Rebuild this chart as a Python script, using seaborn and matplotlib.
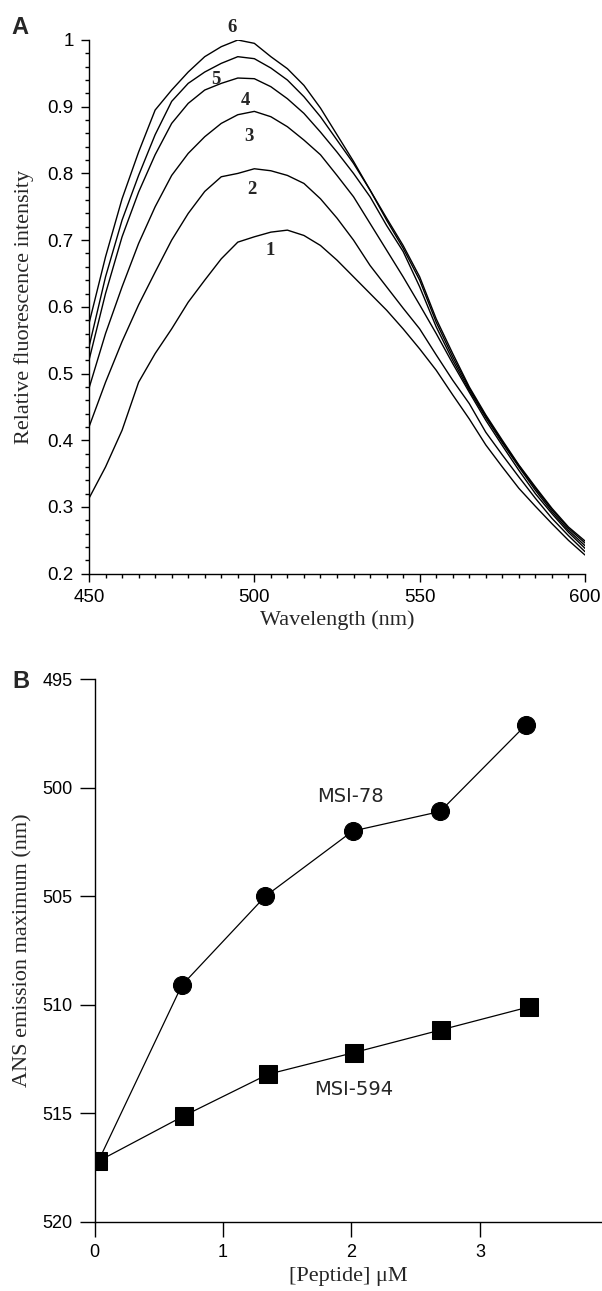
import matplotlib
matplotlib.use("Agg")
import matplotlib.pyplot as plt
import seaborn as sns
import pandas as pd
from matplotlib.ticker import MultipleLocator, FuncFormatter

# ---------------- Panel A data ----------------
wavelength = list(range(450, 601, 5))
curve1 = [0.313, 0.360, 0.415, 0.487, 0.530, 0.567, 0.607, 0.640, 0.672, 0.697, 0.705,
          0.712, 0.715, 0.707, 0.692, 0.670, 0.645, 0.620, 0.595, 0.567, 0.537,
          0.505, 0.468, 0.432, 0.393, 0.360, 0.328, 0.301, 0.275, 0.250, 0.228]
curve2 = [0.420, 0.487, 0.548, 0.603, 0.652, 0.700, 0.740, 0.773, 0.795, 0.800, 0.807,
          0.804, 0.797, 0.785, 0.762, 0.733, 0.700, 0.662, 0.630, 0.598, 0.567,
          0.528, 0.490, 0.455, 0.412, 0.378, 0.345, 0.313, 0.283, 0.257, 0.233]
curve3 = [0.478, 0.560, 0.630, 0.695, 0.750, 0.797, 0.830, 0.855, 0.875, 0.888, 0.893,
          0.885, 0.870, 0.850, 0.828, 0.797, 0.765, 0.725, 0.685, 0.645, 0.603,
          0.560, 0.515, 0.472, 0.430, 0.392, 0.355, 0.320, 0.290, 0.262, 0.238]
curve4 = [0.520, 0.620, 0.705, 0.772, 0.828, 0.875, 0.905, 0.925, 0.935, 0.943, 0.942,
          0.930, 0.912, 0.890, 0.862, 0.832, 0.800, 0.765, 0.722, 0.683, 0.630,
          0.570, 0.520, 0.475, 0.434, 0.396, 0.360, 0.325, 0.293, 0.265, 0.242]
curve5 = [0.540, 0.645, 0.730, 0.797, 0.858, 0.908, 0.935, 0.952, 0.965, 0.975, 0.972,
          0.958, 0.940, 0.915, 0.885, 0.850, 0.815, 0.775, 0.730, 0.688, 0.640,
          0.577, 0.525, 0.478, 0.436, 0.398, 0.362, 0.328, 0.296, 0.268, 0.246]
curve6 = [0.575, 0.675, 0.762, 0.832, 0.895, 0.925, 0.952, 0.975, 0.990, 1.000, 0.995,
          0.975, 0.957, 0.932, 0.898, 0.858, 0.818, 0.775, 0.733, 0.692, 0.645,
          0.582, 0.530, 0.480, 0.438, 0.400, 0.363, 0.330, 0.298, 0.270, 0.249]
curve_names = ["1", "2", "3", "4", "5", "6"]
label_x = [504.7, 499.3, 498.4, 497.2, 488.4, 493.2]
label_y = [0.685, 0.776, 0.856, 0.909, 0.941, 1.019]

# ---------------- Panel B data ----------------
peptide_78 = [0.03, 0.68, 1.33, 2.01, 2.69, 3.36]
msi78 = [517.2, 509.1, 505.0, 502.0, 501.1, 497.1]
peptide_594 = [0.03, 0.70, 1.35, 2.02, 2.70, 3.38]
msi594 = [517.2, 515.1, 513.2, 512.2, 511.15, 510.1]
series_names = ["MSI-78", "MSI-594"]
series_label_x = [1.99, 2.02]
series_label_y = [500.4, 513.9]

sns.set_theme(style="ticks")
plt.rcParams["font.family"] = ["Liberation Sans", "DejaVu Sans"]
plt.rcParams["axes.linewidth"] = 1.0

fig = plt.figure(figsize=(6.02, 12.91), dpi=100)

# ---------------- Panel A ----------------
axA = fig.add_axes([89 / 602, 1 - 573.7 / 1291, 496 / 602, 533.7 / 1291])
curves = [curve1, curve2, curve3, curve4, curve5, curve6]
rows = []
for name, vals in zip(curve_names, curves):
    for w, v in zip(wavelength, vals):
        rows.append({"wl": w, "val": v, "curve": name})
dfA = pd.DataFrame(rows)
sns.lineplot(data=dfA, x="wl", y="val", hue="curve",
             palette=["black"] * 6, linewidth=1.0, legend=False, ax=axA)
axA.set_xlim(450, 600)
axA.set_ylim(0.2, 1.0)
axA.xaxis.set_major_locator(MultipleLocator(50))
axA.xaxis.set_minor_locator(MultipleLocator(5))
axA.yaxis.set_major_locator(MultipleLocator(0.1))
axA.yaxis.set_minor_locator(MultipleLocator(0.02))
axA.yaxis.set_major_formatter(FuncFormatter(lambda v, p: f"{v:g}"))
axA.tick_params(which="major", length=6, width=1, labelsize=13.5, color="black",
                labelcolor="black", pad=5)
axA.tick_params(which="minor", length=3, width=1, color="black")
axA.set_xlabel("Wavelength (nm)", family="Liberation Serif", fontsize=16, labelpad=3)
axA.set_ylabel("Relative fluorescence intensity", family="Liberation Serif",
               fontsize=16, labelpad=10)
sns.despine(ax=axA)
for sp in axA.spines.values():
    sp.set_color("black")
for n, x, y in zip(curve_names, label_x, label_y):
    axA.text(x, y, n, family="Liberation Serif", fontweight="bold", fontsize=13.5,
             ha="center", va="center", clip_on=False)

# ---------------- Panel B ----------------
axB = fig.add_axes([94.5 / 602, 1 - 1222 / 1291, 507.5 / 602, 543 / 1291])
sns.lineplot(x=peptide_78, y=msi78, color="black", linewidth=0.9, marker="o",
             markersize=13, markeredgecolor="black", markerfacecolor="black", ax=axB)
sns.lineplot(x=peptide_594, y=msi594, color="black", linewidth=0.9, marker="s",
             markersize=13.5, markeredgecolor="black", markerfacecolor="black", ax=axB)
axB.set_xlim(0, 3.95)
axB.set_ylim(520, 495)
axB.set_xticks([0, 1, 2, 3])
axB.set_yticks([495, 500, 505, 510, 515, 520])
axB.tick_params(length=11, width=1, labelsize=13, color="black",
                labelcolor="black", pad=5)
axB.set_xlabel("[Peptide] \u03bcM", family="Liberation Serif", fontsize=16, labelpad=4)
axB.set_ylabel("ANS emission maximum (nm)", family="Liberation Serif",
               fontsize=16, labelpad=7)
sns.despine(ax=axB)
for sp in axB.spines.values():
    sp.set_color("black")
for n, x, y in zip(series_names, series_label_x, series_label_y):
    axB.text(x, y, n, family="DejaVu Sans", fontsize=14, ha="center", va="center")

fig.text(19.5 / 602, 1 - 27 / 1291, "A", fontsize=17, fontweight="bold",
         ha="center", va="center")
fig.text(20.5 / 602, 1 - 681 / 1291, "B", fontsize=17, fontweight="bold",
         ha="center", va="center")

fig.savefig("out.png", dpi=100)
